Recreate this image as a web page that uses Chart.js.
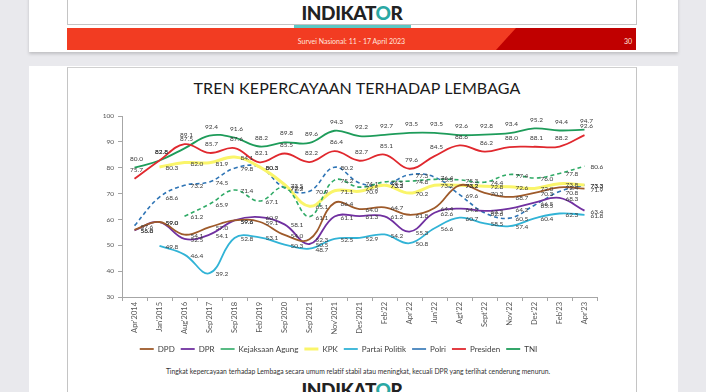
<!DOCTYPE html>
<html>
<head>
<meta charset="utf-8">
<script src="https://cdn.jsdelivr.net/npm/chart.js@4"></script>
<style>
  html, body { margin:0; padding:0; }
  body { width:706px; height:392px; overflow:hidden; position:relative; background:#E9E9ED; font-family:Lato, "Open Sans", sans-serif; }
  .abs { position:absolute; }
  #top { left:29px; top:-10px; width:649px; height:62px; background:#fff; box-shadow:0 2px 3px rgba(0,0,0,0.18); }
  #topbox { left:67px; top:0; width:568px; height:24px; border-left:1px solid #C4C4C4; border-right:1px solid #C4C4C4; border-bottom:1px solid #C4C4C4; }
  .logo { font-weight:900; font-size:19px; color:#222; letter-spacing:-0.4px; width:130px; text-align:center; }
  .logo span { color:#2AA8A4; }
  #teal { left:294px; top:25px; width:117px; height:5px; background:#5CC9C5; }
  #red { left:67px; top:28px; width:569px; height:22px; background:#F23C22; }
  #dark { left:496px; top:28px; width:140px; height:22px; background:#C00000; clip-path:polygon(20px 0, 140px 0, 140px 22px, 0 22px); }
  #survey { left:67px; top:37px; width:569px; text-align:center; color:#FFE4DD; font-size:7px; }
  #page { left:612px; top:37px; width:20px; text-align:right; color:#FFE4DD; font-size:7px; }
  #panel { left:29px; top:66px; width:649px; height:340px; background:#fff; }
  #panelbox { left:67px; top:67px; width:568px; height:330px; border-left:1px solid #C4C4C4; border-right:1px solid #C4C4C4; border-top:1px solid #D0D0D0; }
  #title { left:67px; top:78px; width:580px; text-align:center; font-size:16px; color:#1b1b1b; font-weight:400; letter-spacing:0.1px; }
  #note { left:67px; top:367px; width:582px; text-align:center; font-size:6.8px; color:#333; }
  #chartWrap { left:80px; top:104px; }
</style>
</head>
<body>
<div id="top" class="abs"></div>
<div id="topbox" class="abs"></div>
<div class="abs logo" style="left:287px; top:1px;">INDIKAT<span>O</span>R</div>
<div id="teal" class="abs"></div>
<div id="red" class="abs"></div>
<div id="dark" class="abs"></div>
<div id="survey" class="abs">Survei Nasional: 11 - 17 April 2023</div>
<div id="page" class="abs">30</div>

<div id="panel" class="abs"></div>
<div id="panelbox" class="abs"></div>
<div id="title" class="abs">TREN KEPERCAYAAN TERHADAP LEMBAGA</div>
<div id="chartWrap" class="abs"><canvas id="c" width="530" height="259"></canvas></div>
<div id="note" class="abs">Tingkat kepercayaan terhadap Lembaga secara umum relatif stabil atau meningkat, kecuali DPR yang terlihat cenderung menurun.</div>
<div class="abs logo" style="left:287px; top:378px;">INDIKAT<span>O</span>R</div>

<script>
const categories = ["Apr'2014","Jan'2015","Aug'2016","Sep'2017","Sep'2018","Feb'2019","Sep'2020","Sep'2021","Nov'2021","Des'2021","Feb'22","Apr'22","Jun'22","Agt'22","Sept'22","Nov'22","Des'22","Feb'23","Apr'23"];

const dpd        = [56.0, 59.0, 54.1, 57.0, 59.6, 59.1, 54.0, 52.3, 66.4, 64.0, 64.7, 61.8, 64.4, 73.2, 70.3, 68.7, 70.3, 72.4, 71.9];
const dpr        = [55.8, 59.0, 52.5, 54.1, 59.6, 60.9, 58.1, 50.5, 61.1, 61.3, 61.2, 55.3, 62.6, 64.2, 63.3, 64.2, 66.5, 68.3, 63.4];
const kejaksaan  = [null, null, 61.2, 65.9, 71.4, 67.1, 72.4, 61.1, 75.2, 72.5, 74.5, 74.8, 75.5, 75.3, 74.4, 77.4, 76.0, 77.8, 80.6];
const kpk        = [null, 80.3, 82.0, 81.9, 84.1, 80.3, 73.5, 65.1, 71.1, 70.9, 73.2, 70.2, 73.2, 73.2, 72.8, 72.6, 72.0, 73.8, 73.3];
const partai     = [null, 49.8, 46.4, 39.2, 52.8, 53.1, 50.3, 48.7, 52.5, 52.9, 54.2, 50.8, 56.6, 60.7, 58.5, 57.4, 60.4, 62.3, 61.8];
const polri      = [57.6, 68.6, 73.2, 74.5, 79.8, 80.3, 72.2, 70.9, 80.2, 74.1, 73.3, 77.3, 76.4, 69.6, 62.6, 60.5, 65.5, 70.8, 73.3];
const presiden   = [75.7, 82.8, 89.1, 85.7, 87.6, 82.1, 85.5, 82.2, 86.4, 82.7, 85.1, 79.6, 84.5, 88.6, 86.2, 88.0, 88.1, 88.2, 92.6];
const tni        = [80.0, 82.8, 87.5, 92.4, 91.6, 88.2, 89.8, 89.6, 94.3, 92.2, 92.7, 93.5, 93.5, 92.6, 92.8, 93.4, 95.2, 94.4, 94.7];
const yTicks     = [30, 40, 50, 60, 70, 80, 90, 100];

function ds(label, data, color, dash, width, labelPos) {
  return { label, data, borderColor: color, backgroundColor: color, borderDash: dash, borderWidth: width,
           pointRadius: 0, pointHoverRadius: 0, tension: 0.4, fill: false, labelPos };
}

const datasets = [
  ds('DPD', dpd, '#9E5A2A', [], 1.8, 'right'),
  ds('DPR', dpr, '#7030A0', [], 1.8, 'right'),
  ds('Kejaksaan Agung', kejaksaan, '#2FAA66', [4, 3], 1.6, 'right'),
  ds('KPK', kpk, '#FAF56A', [], 3, 'right'),
  ds('Partai Politik', partai, '#31B3D6', [], 1.8, 'right'),
  ds('Polri', polri, '#2E74B5', [4, 3], 1.6, 'right'),
  ds('Presiden', presiden, '#E0282E', [], 1.8, 'above'),
  ds('TNI', tni, '#1E9C5A', [], 1.8, 'above')
];

const valueLabels = {
  id: 'valueLabels',
  afterDatasetsDraw(chart) {
    const ctx = chart.ctx;
    ctx.save();
    ctx.font = '6.5px Lato, sans-serif';
    ctx.fillStyle = '#3a3a3a';
    ctx.textBaseline = 'middle';
    chart.data.datasets.forEach((d, di) => {
      const meta = chart.getDatasetMeta(di);
      meta.data.forEach((pt, i) => {
        const v = d.data[i];
        if (v === null || v === undefined) return;
        const txt = v.toFixed(1);
        if (d.labelPos === 'above') {
          ctx.textAlign = 'center';
          ctx.fillText(txt, pt.x + 2, pt.y - 9);
        } else {
          ctx.textAlign = 'left';
          ctx.fillText(txt, pt.x + 6, pt.y + 1);
        }
      });
    });
    ctx.restore();
  }
};

const xLabels = {
  id: 'xLabels',
  afterDraw(chart) {
    const ctx = chart.ctx;
    const xs = chart.scales.x;
    ctx.save();
    ctx.font = '7.5px Lato, sans-serif';
    ctx.fillStyle = '#555';
    ctx.textAlign = 'right';
    ctx.textBaseline = 'middle';
    categories.forEach((c, i) => {
      const x = xs.getPixelForValue(i);
      ctx.save();
      ctx.translate(x, xs.top + 5);
      ctx.rotate(-Math.PI / 2);
      ctx.fillText(c, 0, 0);
      ctx.restore();
    });
    ctx.restore();
  }
};

new Chart(document.getElementById('c'), {
  type: 'line',
  data: { labels: categories, datasets },
  options: {
    responsive: false,
    devicePixelRatio: 1,
    animation: false,
    events: [],
    layout: { padding: { top: 12, right: 13, left: 0, bottom: 0 } },
    scales: {
      x: {
        type: 'category',
        offset: true,
        grid: { display: true, drawOnChartArea: false, tickLength: 4, color: '#A6A6A6', offset: true },
        border: { color: '#A6A6A6' },
        ticks: { display: false },
        afterFit: s => { s.height = 42; }
      },
      y: {
        min: 30, max: 100,
        afterBuildTicks: s => { s.ticks = yTicks.map(v => ({ value: v })); },
        ticks: { font: { size: 6.5, family: 'Lato' }, color: '#555', padding: 4 },
        grid: { drawOnChartArea: false, tickLength: 4, color: '#A6A6A6' },
        border: { color: '#A6A6A6' },
        afterFit: s => { s.width = 42; }
      }
    },
    plugins: {
      legend: {
        position: 'bottom',
        labels: { usePointStyle: true, pointStyle: 'line', pointStyleWidth: 14, boxHeight: 8,
                  font: { size: 8, family: 'Lato' }, color: '#404040', padding: 6 }
      },
      tooltip: { enabled: false }
    }
  },
  plugins: [valueLabels, xLabels]
});
</script>
</body>
</html>
